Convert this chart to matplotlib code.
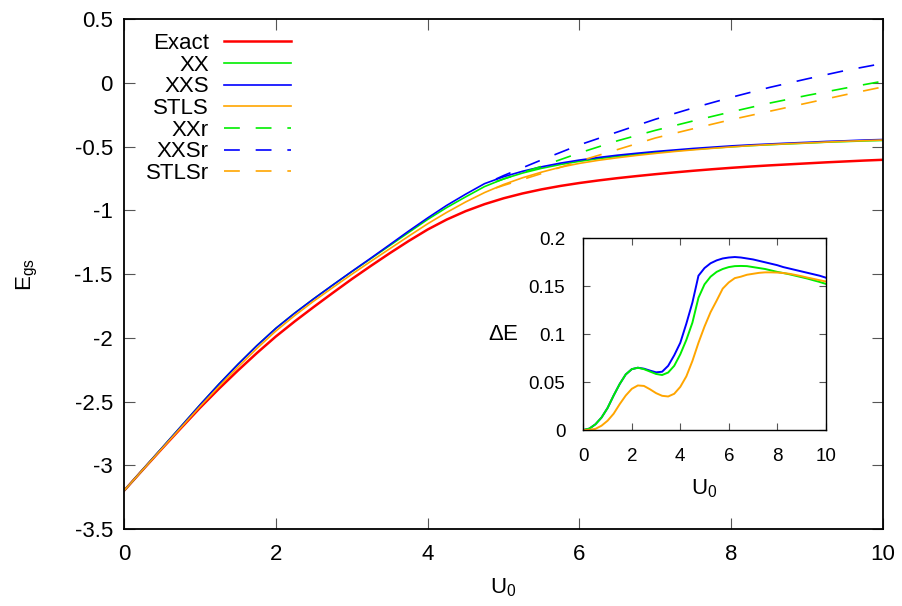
import matplotlib.pyplot as plt

plt.rcParams['font.family'] = ['Liberation Sans', 'DejaVu Sans']
plt.rcParams['mathtext.default'] = 'regular'

# ground-state energy vs U0
u = [0, 0.25, 0.5, 0.75, 1, 1.25, 1.5, 1.75, 2, 2.25, 2.5, 2.75, 3, 3.25, 3.5, 3.75, 4,
     4.25, 4.5, 4.75, 5, 5.25, 5.5, 5.75, 6, 6.25, 6.5, 6.75, 7, 7.25, 7.5, 7.75, 8,
     8.25, 8.5, 8.75, 9, 9.25, 9.5, 9.75, 10]
e_exact = [-3.200, -3.034, -2.870, -2.709, -2.550, -2.400, -2.257, -2.120, -1.990, -1.871,
           -1.758, -1.648, -1.540, -1.437, -1.337, -1.241, -1.151, -1.073, -1.007, -0.952,
           -0.906, -0.868, -0.836, -0.809, -0.786, -0.766, -0.748, -0.732, -0.717, -0.703,
           -0.690, -0.678, -0.667, -0.657, -0.648, -0.640, -0.632, -0.624, -0.617, -0.610,
           -0.604]
e_xx = [-3.200, -3.032, -2.864, -2.696, -2.527, -2.364, -2.209, -2.062, -1.926, -1.806,
        -1.694, -1.587, -1.482, -1.380, -1.277, -1.174, -1.072, -0.979, -0.895, -0.814,
        -0.754, -0.708, -0.671, -0.641, -0.616, -0.595, -0.577, -0.561, -0.547, -0.534,
        -0.522, -0.512, -0.502, -0.493, -0.486, -0.479, -0.473, -0.466, -0.461, -0.456,
        -0.452]
e_xxs = [-3.200, -3.032, -2.864, -2.696, -2.527, -2.364, -2.209, -2.062, -1.926, -1.806,
         -1.694, -1.586, -1.480, -1.376, -1.270, -1.163, -1.060, -0.962, -0.874, -0.791,
         -0.737, -0.694, -0.659, -0.630, -0.606, -0.586, -0.568, -0.553, -0.539, -0.527,
         -0.515, -0.505, -0.495, -0.487, -0.480, -0.473, -0.467, -0.460, -0.455, -0.449,
         -0.445]
e_stls = [-3.200, -3.034, -2.869, -2.705, -2.540, -2.383, -2.230, -2.084, -1.947, -1.825,
          -1.712, -1.606, -1.502, -1.401, -1.302, -1.203, -1.106, -1.017, -0.935, -0.861,
          -0.798, -0.745, -0.701, -0.662, -0.632, -0.608, -0.588, -0.570, -0.554, -0.539,
          -0.526, -0.514, -0.503, -0.493, -0.485, -0.478, -0.472, -0.465, -0.459, -0.454,
          -0.449]

# "r" variants, only computed for large U0
u_r = [4.9, 5.0, 5.5, 6, 6.5, 7, 7.5, 8, 8.5, 9, 9.5, 10]
e_xxr = [-0.775, -0.755, -0.655, -0.55, -0.455, -0.373, -0.299, -0.228, -0.16, -0.099, -0.042, 0.013]
e_xxsr = [-0.755, -0.728, -0.605, -0.487, -0.386, -0.286, -0.197, -0.114, -0.037, 0.031, 0.096, 0.152]
e_stlsr = [-0.825, -0.805, -0.712, -0.614, -0.524, -0.433, -0.36, -0.289, -0.224, -0.159, -0.094, -0.032]

# error relative to exact (inset), same U0 grid
d_xxs = [0, 0.0015, 0.006, 0.013, 0.023, 0.036, 0.048, 0.058, 0.0635, 0.065, 0.064, 0.062, 0.0602,
         0.0608, 0.067, 0.078, 0.091, 0.111, 0.133, 0.161, 0.169, 0.174, 0.177, 0.179, 0.180,
         0.1805, 0.180, 0.179, 0.178, 0.1765, 0.175, 0.1735, 0.172, 0.170, 0.1685, 0.167,
         0.1655, 0.164, 0.1625, 0.161, 0.159]
d_xx = [0, 0.0015, 0.006, 0.013, 0.023, 0.036, 0.048, 0.058, 0.0635, 0.065, 0.0635, 0.061, 0.0585,
        0.0574, 0.060, 0.067, 0.079, 0.094, 0.112, 0.138, 0.152, 0.160, 0.165, 0.168, 0.170,
        0.171, 0.1712, 0.171, 0.170, 0.169, 0.168, 0.1665, 0.165, 0.1638, 0.1625, 0.161,
        0.1595, 0.158, 0.1562, 0.1545, 0.1525]
d_stls = [0, 0.0002, 0.0012, 0.0045, 0.0097, 0.017, 0.027, 0.036, 0.043, 0.0465, 0.046, 0.0425,
          0.0385, 0.0357, 0.035, 0.0378, 0.045, 0.056, 0.072, 0.091, 0.108, 0.123, 0.135, 0.1475,
          0.154, 0.1585, 0.160, 0.162, 0.163, 0.164, 0.1645, 0.1645, 0.1643, 0.1638, 0.163,
          0.1618, 0.1605, 0.159, 0.1577, 0.1563, 0.155]

main_ticks = [0.5, 0, -0.5, -1, -1.5, -2, -2.5, -3, -3.5]
inset_ticks = [0, 0.05, 0.1, 0.15, 0.2]

RED, GREEN, BLUE, ORANGE = '#ff0000', '#00ee00', '#0000ff', '#ffa500'
DASH = (9.5, 9.5)
TICK_GREY = '#555555'

fig = plt.figure(figsize=(9.03, 6.06), dpi=100)
ax = fig.add_axes([0.1373, 0.127, 0.8407, 0.8416])

ax.plot(u, e_exact, color=RED, lw=1.8, label='Exact')
ax.plot(u, e_xx, color=GREEN, lw=1.2, label='XX')
ax.plot(u, e_xxs, color=BLUE, lw=1.2, label='XXS')
ax.plot(u, e_stls, color=ORANGE, lw=1.2, label='STLS')
ax.plot(u_r, e_xxr, color=GREEN, lw=1.2, dashes=DASH, label='XXr')
ax.plot(u_r, e_xxsr, color=BLUE, lw=1.2, dashes=DASH, label='XXSr')
ax.plot(u_r, e_stlsr, color=ORANGE, lw=1.2, dashes=DASH, label='STLSr')

ax.set_xlim(0, 10)
ax.set_ylim(-3.5, 0.5)
ax.set_xticks([0, 2, 4, 6, 8, 10])
ax.set_yticks(main_ticks)
ax.set_yticklabels(['%g' % t for t in main_ticks])
ax.tick_params(direction='in', length=8, width=0.8, color=TICK_GREY,
               top=True, right=True, labelsize=16, pad=8)
ax.tick_params(axis='x', pad=11)
for s in ax.spines.values():
    s.set_linewidth(1.3)
ax.set_xlabel('$U_0$', fontsize=16, labelpad=8)
ax.set_ylabel('$E_{gs}$', fontsize=16, labelpad=25)

leg = ax.legend(loc='upper left', bbox_to_anchor=(0.0171, 0.990), frameon=False,
                markerfirst=False, fontsize=16, handlelength=3.0,
                handletextpad=0.68, labelspacing=0.03, borderaxespad=0.0)

# inset: deviation from exact result
ins = fig.add_axes([0.646, 0.2904, 0.2684, 0.3163])
ins.plot(u, d_xxs, color=BLUE, lw=1.4)
ins.plot(u, d_xx, color=GREEN, lw=1.4)
ins.plot(u, d_stls, color=ORANGE, lw=1.4)
ins.set_xlim(0, 10)
ins.set_ylim(0, 0.2)
ins.set_xticks([0, 2, 4, 6, 8, 10])
ins.set_yticks(inset_ticks)
ins.set_yticklabels(['%g' % t for t in inset_ticks])
ins.tick_params(direction='in', length=5, width=0.8, color=TICK_GREY,
                top=True, right=True, labelsize=13.5, pad=13)
for s in ins.spines.values():
    s.set_linewidth(1.0)
ins.set_xlabel('$U_0$', fontsize=16, labelpad=9)
ins.set_ylabel(r'$\Delta$E', fontsize=16, rotation=0, labelpad=18, va='center')

fig.savefig('out.png', dpi=100)
